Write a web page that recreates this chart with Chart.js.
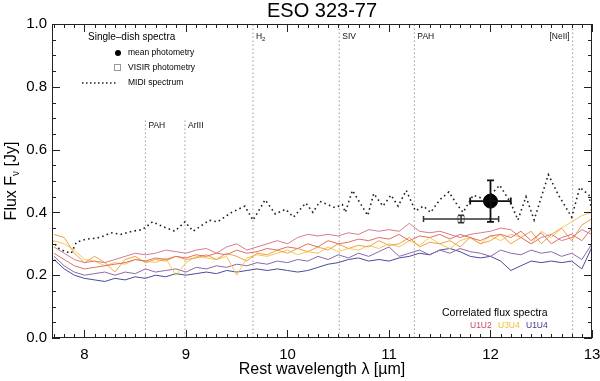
<!DOCTYPE html>
<html lang="en">
<head>
    <meta charset="UTF-8">
    <title>ESO 323-77</title>
    <script src="https://cdn.jsdelivr.net/npm/chart.js"></script>
    <style>
        body { margin: 0; background: #fff; }
    </style>
</head>
<body>
    <canvas id="sed" width="600" height="381"></canvas>
    <script>
        // wavelength grid of the correlated flux spectra (micron)
        const wave = [7.7, 7.8, 7.9, 8.0, 8.1, 8.2, 8.3, 8.4, 8.5, 8.6, 8.7, 8.8, 8.9, 9.0, 9.1, 9.2, 9.3, 9.4,
            9.5, 9.6, 9.7, 9.8, 9.9, 10.0, 10.1, 10.2, 10.3, 10.4, 10.5, 10.6, 10.7, 10.8, 10.9, 11.0, 11.1, 11.2,
            11.3, 11.4, 11.5, 11.6, 11.7, 11.8, 11.9, 12.0, 12.1, 12.2, 12.3, 12.4, 12.5, 12.6, 12.7, 12.8, 12.9, 13.0];

        // correlated fluxes (Jy), two spectra per baseline
        const u1u2a = [0.29, 0.27, 0.25, 0.24, 0.245, 0.24, 0.25, 0.26, 0.27, 0.265, 0.27, 0.28, 0.275, 0.27, 0.28, 0.285, 0.27, 0.29,
            0.30, 0.28, 0.29, 0.30, 0.31, 0.30, 0.32, 0.33, 0.325, 0.33, 0.325, 0.335, 0.33, 0.345, 0.34, 0.345, 0.34, 0.365,
            0.34, 0.335, 0.34, 0.33, 0.32, 0.33, 0.335, 0.34, 0.35, 0.345, 0.32, 0.30, 0.32, 0.33, 0.31, 0.32, 0.345, 0.33];
        const u1u2b = [0.27, 0.25, 0.23, 0.22, 0.225, 0.23, 0.235, 0.24, 0.25, 0.245, 0.255, 0.25, 0.26, 0.255, 0.265, 0.26, 0.27, 0.265,
            0.28, 0.27, 0.275, 0.285, 0.28, 0.29, 0.285, 0.30, 0.29, 0.31, 0.30, 0.305, 0.315, 0.31, 0.32, 0.315, 0.33, 0.31,
            0.325, 0.32, 0.33, 0.315, 0.33, 0.32, 0.31, 0.325, 0.33, 0.32, 0.34, 0.31, 0.335, 0.30, 0.32, 0.33, 0.31, 0.35];
        const u3u4a = [0.33, 0.32, 0.27, 0.24, 0.26, 0.24, 0.21, 0.25, 0.26, 0.24, 0.25, 0.245, 0.26, 0.25, 0.255, 0.265, 0.25, 0.27,
            0.26, 0.245, 0.27, 0.265, 0.28, 0.27, 0.285, 0.275, 0.29, 0.28, 0.30, 0.285, 0.295, 0.29, 0.31, 0.295, 0.30, 0.32,
            0.29, 0.305, 0.30, 0.31, 0.29, 0.32, 0.30, 0.31, 0.33, 0.30, 0.32, 0.34, 0.30, 0.33, 0.35, 0.31, 0.36, 0.38];
        const u3u4b = [0.31, 0.30, 0.28, 0.25, 0.245, 0.23, 0.24, 0.235, 0.25, 0.245, 0.24, 0.255, 0.20, 0.24, 0.26, 0.255, 0.25, 0.26,
            0.20, 0.255, 0.265, 0.26, 0.27, 0.28, 0.265, 0.275, 0.27, 0.29, 0.275, 0.285, 0.28, 0.295, 0.285, 0.30, 0.29, 0.31,
            0.295, 0.32, 0.30, 0.285, 0.31, 0.32, 0.30, 0.325, 0.31, 0.33, 0.32, 0.30, 0.34, 0.32, 0.35, 0.37, 0.39, 0.40];
        const u1u4a = [0.26, 0.23, 0.21, 0.20, 0.205, 0.21, 0.20, 0.21, 0.205, 0.22, 0.21, 0.215, 0.22, 0.21, 0.225, 0.22, 0.23, 0.225,
            0.235, 0.23, 0.24, 0.235, 0.245, 0.24, 0.25, 0.245, 0.26, 0.25, 0.265, 0.255, 0.27, 0.26, 0.275, 0.29, 0.26, 0.27,
            0.28, 0.265, 0.28, 0.27, 0.285, 0.275, 0.27, 0.26, 0.28, 0.27, 0.265, 0.28, 0.27, 0.275, 0.26, 0.27, 0.25, 0.30];
        const u1u4b = [0.25, 0.22, 0.20, 0.19, 0.185, 0.18, 0.19, 0.185, 0.195, 0.19, 0.20, 0.195, 0.205, 0.20, 0.205, 0.21, 0.205, 0.215,
            0.21, 0.215, 0.22, 0.215, 0.22, 0.215, 0.21, 0.215, 0.225, 0.235, 0.24, 0.25, 0.255, 0.245, 0.25, 0.245, 0.255, 0.26,
            0.27, 0.265, 0.28, 0.285, 0.275, 0.26, 0.255, 0.26, 0.245, 0.215, 0.23, 0.245, 0.24, 0.245, 0.24, 0.245, 0.22, 0.29];

        // MIDI single-dish spectrum
        const midiWave = [7.68, 7.75, 7.81, 7.87, 7.92, 8.02, 8.12, 8.19, 8.26, 8.36, 8.47, 8.57, 8.67, 8.77, 8.89, 8.99, 9.07, 9.23,
            9.31, 9.45, 9.58, 9.66, 9.78, 9.88, 9.98, 10.06, 10.18, 10.25, 10.32, 10.47, 10.54, 10.57, 10.64, 10.79, 10.85,
            10.94, 11.02, 11.09, 11.17, 11.26, 11.34, 11.41, 11.50, 11.59, 11.66, 11.73, 11.83, 11.96, 12.09, 12.20, 12.27,
            12.35, 12.43, 12.57, 12.67, 12.80, 12.88, 12.97, 13.0];
        const midiFlux = [0.31, 0.285, 0.275, 0.27, 0.305, 0.315, 0.318, 0.325, 0.335, 0.33, 0.34, 0.345, 0.37, 0.355, 0.34, 0.37, 0.34, 0.375,
            0.37, 0.40, 0.42, 0.375, 0.44, 0.395, 0.41, 0.385, 0.43, 0.40, 0.435, 0.415, 0.425, 0.40, 0.47, 0.39, 0.46,
            0.42, 0.455, 0.42, 0.47, 0.405, 0.42, 0.40, 0.44, 0.465, 0.43, 0.40, 0.455, 0.44, 0.487, 0.43, 0.376,
            0.45, 0.376, 0.52, 0.455, 0.385, 0.48, 0.455, 0.40];

        // photometry
        const photWave = [12.0], photFlux = [0.436], photErrX = [0.2], photErrY = [0.066];
        const visirWave = [11.71], visirFlux = [0.379], visirErrX = [0.37], visirErrY = [0.012];

        // spectral features
        const featureWave = [8.6, 8.99, 9.66, 10.51, 11.25, 12.81];
        const featureLabel = ['PAH', 'ArIII', 'H', 'SIV', 'PAH', '[NeII]'];
        const featureTop = [0.70, 0.70, 1.0, 1.0, 1.0, 1.0];
        const featureTextY = [0.675, 0.675, 0.96, 0.96, 0.96, 0.96];

        const FONT = "'Liberation Sans', Arial, Helvetica, sans-serif";

        function pts(xs, ys) {
            return xs.map((v, i) => ({ x: v, y: ys[i] }));
        }

        const datasets = [];
        featureWave.forEach((w, i) => {
            datasets.push({
                data: [{ x: w, y: 0 }, { x: w, y: featureTop[i] }],
                borderColor: '#9a9a9a', borderWidth: 1, borderDash: [1.5, 2.5],
                pointRadius: 0, order: 10
            });
        });
        const specs = [
            [u1u2a, '#d77a8c'], [u1u2b, '#e0705e'],
            [u3u4a, '#f0a040'], [u3u4b, '#f5c850'],
            [u1u4a, '#8a6aaa'], [u1u4b, '#4a4a9a']
        ];
        specs.forEach(s => {
            datasets.push({
                data: pts(wave, s[0]), borderColor: s[1], borderWidth: 1,
                pointRadius: 0, tension: 0, order: 5
            });
        });
        datasets.push({
            data: pts(midiWave, midiFlux), borderColor: '#222', borderWidth: 1.6,
            borderDash: [1.6, 3.2], pointRadius: 0, tension: 0, order: 2
        });
        datasets.push({
            data: pts(visirWave, visirFlux), showLine: false, pointStyle: 'rect',
            pointRadius: 4.5, borderColor: '#888', borderWidth: 1, backgroundColor: 'rgba(0,0,0,0)', order: 1
        });
        datasets.push({
            data: pts(photWave, photFlux), showLine: false, pointStyle: 'circle',
            pointRadius: 7, borderColor: '#000', backgroundColor: '#000', order: 0
        });

        const decor = {
            id: 'decor',
            beforeDatasetsDraw(chart) {
                const { ctx, scales: { x, y } } = chart;
                ctx.save();
                ctx.fillStyle = '#111';
                ctx.font = '8.5px ' + FONT;
                ctx.textBaseline = 'middle';
                featureWave.forEach((w, i) => {
                    const px = x.getPixelForValue(w);
                    const py = y.getPixelForValue(featureTextY[i]);
                    if (featureLabel[i] === '[NeII]') {
                        ctx.textAlign = 'right';
                        ctx.fillText(featureLabel[i], px - 3, py);
                    } else {
                        ctx.textAlign = 'left';
                        ctx.fillText(featureLabel[i], px + 3, py);
                        if (featureLabel[i] === 'H') {
                            ctx.font = '6px ' + FONT;
                            ctx.fillText('2', px + 9, py + 3);
                            ctx.font = '8.5px ' + FONT;
                        }
                    }
                });
                ctx.restore();
            },
            afterDatasetsDraw(chart) {
                const { ctx, scales: { x, y } } = chart;
                ctx.save();
                function errbar(w, f, ex, ey, cap, color, lw) {
                    const cx = x.getPixelForValue(w), cy = y.getPixelForValue(f);
                    const x0 = x.getPixelForValue(w - ex), x1 = x.getPixelForValue(w + ex);
                    const y0 = y.getPixelForValue(f - ey), y1 = y.getPixelForValue(f + ey);
                    ctx.strokeStyle = color;
                    ctx.lineWidth = lw;
                    ctx.beginPath();
                    ctx.moveTo(x0, cy); ctx.lineTo(x1, cy);
                    ctx.moveTo(x0, cy - cap); ctx.lineTo(x0, cy + cap);
                    ctx.moveTo(x1, cy - cap); ctx.lineTo(x1, cy + cap);
                    ctx.moveTo(cx, y0); ctx.lineTo(cx, y1);
                    ctx.moveTo(cx - cap, y0); ctx.lineTo(cx + cap, y0);
                    ctx.moveTo(cx - cap, y1); ctx.lineTo(cx + cap, y1);
                    ctx.stroke();
                }
                visirWave.forEach((w, i) => errbar(w, visirFlux[i], visirErrX[i], visirErrY[i], 3, '#333', 1.5));
                photWave.forEach((w, i) => errbar(w, photFlux[i], photErrX[i], photErrY[i], 3.5, '#111', 1.8));
                ctx.restore();
            },
            afterDraw(chart) {
                const { ctx, chartArea: a, scales: { x, y } } = chart;
                ctx.save();
                // frame with IDL style ticks on all sides
                ctx.strokeStyle = '#222';
                ctx.lineWidth = 1;
                ctx.strokeRect(a.left + 0.5, a.top + 0.5, a.right - a.left - 1, a.bottom - a.top - 1);
                ctx.beginPath();
                for (let k = 77; k <= 130; k++) {
                    const px = Math.round(x.getPixelForValue(k / 10)) + 0.5;
                    const len = k % 10 === 0 ? 8 : 4;
                    ctx.moveTo(px, a.bottom); ctx.lineTo(px, a.bottom - len);
                    ctx.moveTo(px, a.top); ctx.lineTo(px, a.top + len);
                }
                for (let k = 0; k <= 20; k++) {
                    const py = Math.round(y.getPixelForValue(k * 0.05)) + 0.5;
                    const len = k % 4 === 0 ? 8 : 4;
                    ctx.moveTo(a.left, py); ctx.lineTo(a.left + len, py);
                    ctx.moveTo(a.right, py); ctx.lineTo(a.right - len, py);
                }
                ctx.stroke();

                // titles
                ctx.fillStyle = '#000';
                ctx.textAlign = 'center';
                ctx.textBaseline = 'middle';
                ctx.font = '20px ' + FONT;
                ctx.fillText('ESO 323-77', (a.left + a.right) / 2, 11);
                ctx.font = '16px ' + FONT;
                ctx.fillText('Rest wavelength \u03bb [\u00b5m]', (a.left + a.right) / 2, 370);
                ctx.save();
                ctx.translate(12, (a.top + a.bottom) / 2);
                ctx.rotate(-Math.PI / 2);
                ctx.textAlign = 'left';
                const p1 = 'Flux F', p2 = '\u03bd', p3 = ' [Jy]';
                ctx.font = '16px ' + FONT;
                const w1 = ctx.measureText(p1).width, w3 = ctx.measureText(p3).width;
                ctx.font = '10px ' + FONT;
                const w2 = ctx.measureText(p2).width;
                let sx = -(w1 + w2 + w3) / 2;
                ctx.font = '16px ' + FONT;
                ctx.fillText(p1, sx, 0);
                ctx.font = '10px ' + FONT;
                ctx.fillText(p2, sx + w1, 4);
                ctx.font = '16px ' + FONT;
                ctx.fillText(p3, sx + w1 + w2, 0);
                ctx.restore();

                // single-dish legend
                ctx.textAlign = 'left';
                ctx.font = '10px ' + FONT;
                ctx.fillText('Single\u2013dish spectra', 88, 37);
                ctx.font = '8.5px ' + FONT;
                ctx.fillText('mean photometry', 128, 53);
                ctx.fillText('VISIR photometry', 128, 68);
                ctx.fillText('MIDI spectrum', 128, 83);
                ctx.beginPath();
                ctx.arc(118, 53, 3, 0, Math.PI * 2);
                ctx.fill();
                ctx.strokeStyle = '#999';
                ctx.strokeRect(114.5, 64.5, 6, 6);
                ctx.strokeStyle = '#222';
                ctx.lineWidth = 1.5;
                ctx.setLineDash([1.5, 2.5]);
                ctx.beginPath();
                ctx.moveTo(82, 83); ctx.lineTo(118, 83);
                ctx.stroke();
                ctx.setLineDash([]);

                // correlated flux legend
                ctx.font = '10.5px ' + FONT;
                ctx.fillStyle = '#000';
                ctx.fillText('Correlated flux spectra', 442, 313);
                ctx.font = '8.5px ' + FONT;
                ctx.fillStyle = '#c8485e';
                ctx.fillText('U1U2', 470, 326);
                ctx.fillStyle = '#f0c030';
                ctx.fillText('U3U4', 498, 326);
                ctx.fillStyle = '#3c3c88';
                ctx.fillText('U1U4', 526, 326);
                ctx.restore();
            }
        };

        new Chart(document.getElementById('sed').getContext('2d'), {
            type: 'line',
            data: { datasets: datasets },
            options: {
                responsive: false,
                animation: false,
                devicePixelRatio: 1,
                layout: { padding: { top: 24, right: 8, left: 0, bottom: 0 } },
                plugins: { legend: { display: false }, tooltip: { enabled: false } },
                scales: {
                    x: {
                        type: 'linear', min: 7.68, max: 13.0,
                        grid: { display: false, drawTicks: false },
                        border: { display: false },
                        ticks: {
                            stepSize: 1, includeBounds: false, padding: 8,
                            color: '#000', font: { family: FONT, size: 15 },
                            maxRotation: 0,
                            callback: v => Number.isInteger(Math.round(v * 1000) / 1000) ? String(Math.round(v)) : ''
                        },
                        afterFit: s => { s.height = 43; s.paddingRight = 0; s.paddingLeft = 0; }
                    },
                    y: {
                        type: 'linear', min: 0, max: 1,
                        grid: { display: false, drawTicks: false },
                        border: { display: false },
                        ticks: {
                            stepSize: 0.2, padding: 5,
                            color: '#000', font: { family: FONT, size: 15 },
                            callback: v => v.toFixed(1)
                        },
                        afterFit: s => { s.width = 52; s.paddingTop = 0; s.paddingBottom = 0; }
                    }
                }
            },
            plugins: [decor]
        });
    </script>
</body>
</html>
